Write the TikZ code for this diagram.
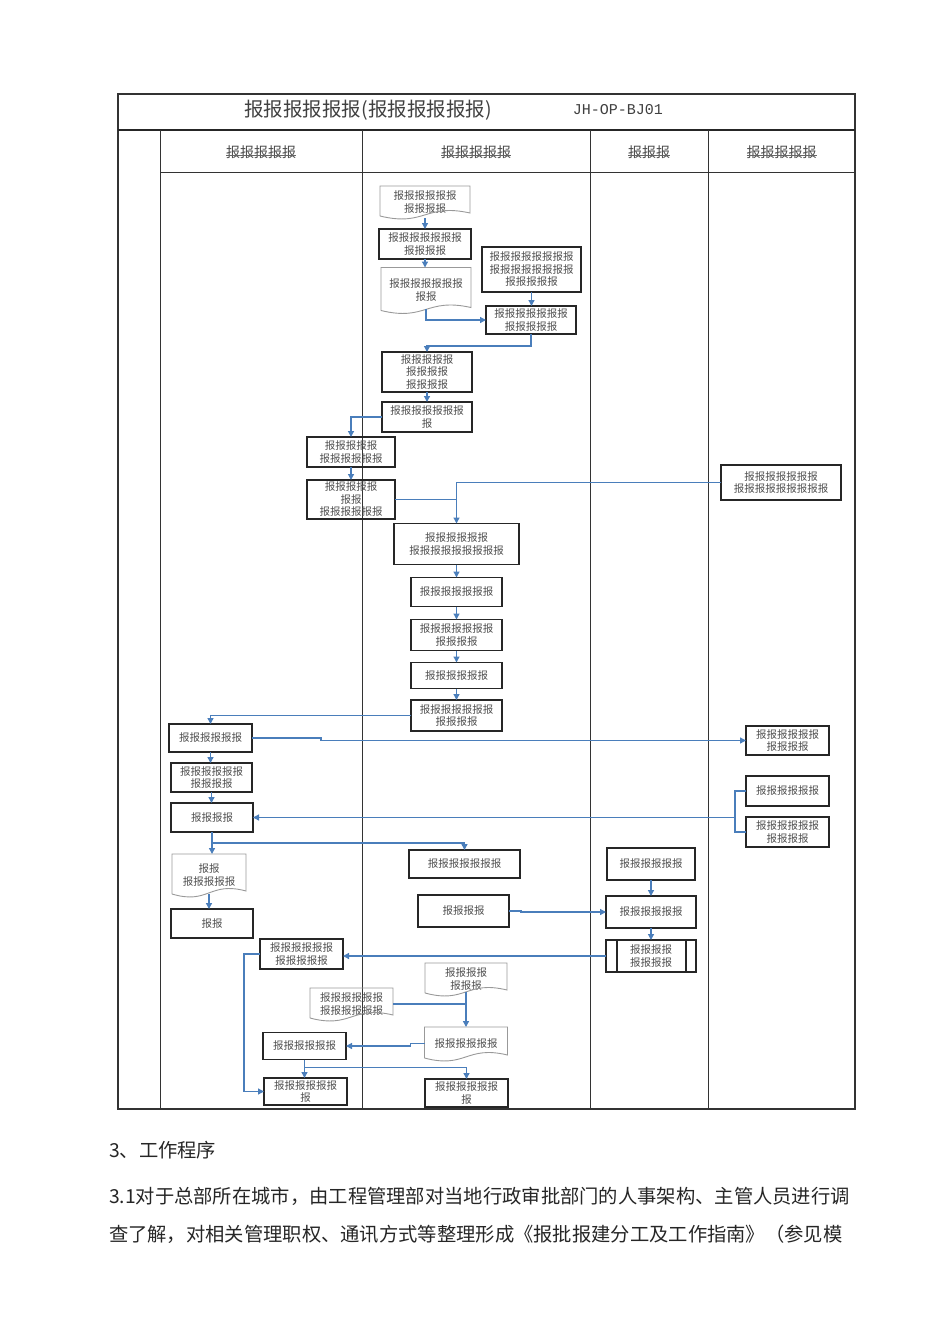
\documentclass[tikz,border=0pt]{standalone}
\usepackage{fontspec}
\setmainfont{Noto Sans CJK SC}
\newfontfamily\monof{Liberation Mono}
\usetikzlibrary{arrows.meta,calc}
\definecolor{conblue}{RGB}{74,126,187}
\definecolor{txtgray}{RGB}{80,80,80}
\newcommand\docout[1]{\draw[docedge] ($(#1.south west)+(0,-2)$) -- (#1.north west) -- (#1.north east) -- ($(#1.south east)+(0,-5)$) .. controls ($(#1.south)+(0,-15)$) and ($(#1.south)+(0,9)$) .. ($(#1.south west)+(0,-2)$);}
\tikzset{
 every node/.style={inner sep=0pt, outer sep=0pt, align=center},
 bx/.style={draw=black!85, line width=1.1pt, font=\fontsize{10.5}{12.5}\selectfont, text=txtgray},
 bxk/.style={bx, line width=1.7pt},
 dc/.style={font=\fontsize{10.5}{12.5}\selectfont, text=txtgray},
 docedge/.style={draw=black!40, line width=0.9pt},
 conn/.style={draw=conblue, line width=1.3pt, -{Triangle[length=6pt,width=6pt]}},
 cline/.style={draw=conblue, line width=1.3pt},
 grid/.style={draw=black!80, line width=1pt},
 hdr/.style={font=\fontsize{14}{16}\selectfont, text=black!70},
 body/.style={anchor=west, font=\fontsize{19.3}{22}\selectfont, text=black!85},
}
\begin{document}
\begin{tikzpicture}[x=1pt,y=-1pt]
\useasboundingbox (0,0) rectangle (950,1344);
% table
\draw[grid, line width=1.2pt] (118,94) rectangle (855,1109);
\draw[black!85, line width=2pt] (118,130) -- (855,130);
\draw[grid] (160,130) -- (160,1109);
\draw[grid] (362,130) -- (362,1109);
\draw[grid] (590,130) -- (590,1109);
\draw[grid] (708,130) -- (708,1109);
\draw[grid] (160,172) -- (855,172);
% title
\node[font=\fontsize{19.5}{21}\selectfont, text=black!75] (title) at (368,110) {报报报报报报(报报报报报报)};
\node[font=\monof\fontsize{15}{17}\selectfont, text=black!75] (code) at (618,110) {JH-OP-BJ01};
% headers
\node[hdr] (h1) at (261,152) {报报报报报};
\node[hdr] (h2) at (476,152) {报报报报报};
\node[hdr] (h3) at (649,152) {报报报};
\node[hdr] (h4) at (781.5,152) {报报报报报};
\foreach \h in {h1,h2,h3,h4}{\draw[black!60, line width=0.8pt] ($(\h.west)+(0,3)$) -- ($(\h.east)+(0,3)$);}
% nodes
\node[dc, minimum width=90pt, minimum height=32pt] (d1) at (425,202) {报报报报报报\\报报报报}; \docout{d1}
\node[bx, minimum width=92pt, minimum height=30pt] (b2) at (425,244) {报报报报报报报\\报报报报};
\node[dc, minimum width=90pt, minimum height=45pt] (d3) at (426,290) {报报报报报报报\\报报}; \docout{d3}
\node[bx, minimum width=99pt, minimum height=45pt] (b4) at (531.5,269.5) {报报报报报报报报\\报报报报报报报报\\报报报报报};
\node[bx, minimum width=90pt, minimum height=28pt] (b5) at (531,320) {报报报报报报报\\报报报报报};
\node[bx, minimum width=90pt, minimum height=40pt] (b6) at (427,372) {报报报报报\\报报报报\\报报报报};
\node[bx, minimum width=90pt, minimum height=30pt] (b7) at (427,417) {报报报报报报报\\报};
\node[bx, minimum width=88pt, minimum height=30pt] (b8) at (351,452) {报报报报报\\报报报报报报};
\node[bx, minimum width=88pt, minimum height=39pt] (b9) at (351,499.5) {报报报报报\\报报\\报报报报报报};
\node[bx, minimum width=120pt, minimum height=35pt] (b10) at (781,482.5) {报报报报报报报\\报报报报报报报报报};
\node[bx, minimum width=125pt, minimum height=41pt] (b11) at (456.5,544) {报报报报报报\\报报报报报报报报报};
\node[bx, minimum width=91pt, minimum height=29pt] (b12) at (456.5,592) {报报报报报报报};
\node[bx, minimum width=91pt, minimum height=31pt] (b13) at (456.5,635) {报报报报报报报\\报报报报};
\node[bx, minimum width=91pt, minimum height=26pt] (b14) at (456.5,675.5) {报报报报报报};
\node[bx, minimum width=91pt, minimum height=31pt] (b15) at (456.5,715.5) {报报报报报报报\\报报报报};
\node[bx, minimum width=83pt, minimum height=28pt] (b16) at (210.5,738) {报报报报报报};
\node[bx, minimum width=83pt, minimum height=29pt] (b17) at (787.5,740.5) {报报报报报报\\报报报报};
\node[bx, minimum width=81pt, minimum height=29pt] (b18) at (211.5,777.5) {报报报报报报\\报报报报};
\node[bx, minimum width=82pt, minimum height=29pt] (b19) at (212,817.5) {报报报报};
\node[bx, minimum width=83pt, minimum height=30pt] (b20) at (787.5,791) {报报报报报报};
\node[bx, minimum width=83pt, minimum height=30pt] (b21) at (787.5,832) {报报报报报报\\报报报报};
\node[dc, minimum width=74pt, minimum height=42pt] (d22) at (209,875) {报报\\报报报报报}; \docout{d22}
\node[bx, minimum width=111pt, minimum height=28pt] (b23) at (464.5,864) {报报报报报报报};
\node[bx, minimum width=82pt, minimum height=29pt] (b24) at (212,923.5) {报报};
\node[bx, minimum width=88pt, minimum height=32pt] (b25) at (651,864) {报报报报报报};
\node[bx, minimum width=91pt, minimum height=32pt] (b26) at (463.5,911) {报报报报};
\node[bx, minimum width=90pt, minimum height=32pt] (b27) at (651,912) {报报报报报报};
\node[bx, minimum width=90pt, minimum height=32pt] (b28) at (651,956) {报报报报\\报报报报};
\draw[black!85, line width=1.1pt] ($(b28.north west)+(11,0)$) -- ($(b28.south west)+(11,0)$);
\draw[black!85, line width=1.1pt] ($(b28.north east)+(-10,0)$) -- ($(b28.south east)+(-10,0)$);
\node[bxk, minimum width=83pt, minimum height=30pt] (b29) at (301.5,954) {报报报报报报\\报报报报报};
\node[dc, minimum width=82pt, minimum height=32pt] (d30) at (466,979) {报报报报\\报报报}; \docout{d30}
\node[dc, minimum width=83pt, minimum height=32pt] (d31) at (351.5,1004) {报报报报报报\\报报报报报报}; \docout{d31}
\node[dc, minimum width=83pt, minimum height=33pt] (d32) at (466,1043.5) {报报报报报报}; \docout{d32}
\node[bxk, minimum width=83pt, minimum height=27pt] (b33) at (304.5,1046) {报报报报报报};
\node[bxk, minimum width=83pt, minimum height=27pt] (b34) at (305.5,1091.5) {报报报报报报\\报};
\node[bxk, minimum width=83pt, minimum height=28pt] (b35) at (466.5,1093) {报报报报报报\\报};
% connectors
\draw[conn] (d1.south) -- (d1.south |- b2.north);
\draw[conn] (b2.south) -- (b2.south |- d3.north);
\draw[conn] (b4.south) -- (b4.south |- b5.north);
\draw[conn] ($(d3.south)+(0,-4)$) |- (b5.west);
\draw[conn] (b5.south) -- ++(0,12) -| (b6.north);
\draw[conn] (b6.south) -- (b6.south |- b7.north);
\draw[conn] (b7.west) -| (b8.north);
\draw[conn] (b8.south) -- (b8.south |- b9.north);
\draw[conn] (b10.west) -| (b11.north);
\draw[cline] (b9.east) -- (b9.east -| b11.north);
\draw[conn] (b11.south) -- (b11.south |- b12.north);
\draw[conn] (b12.south) -- (b12.south |- b13.north);
\draw[conn] (b13.south) -- (b13.south |- b14.north);
\draw[conn] (b14.south) -- (b14.south |- b15.north);
\draw[conn] (b15.west) -| (b16.north);
\draw[conn] (b16.east) -- ++(69,0) |- (b17.west);
\draw[conn] (b16.south) -- (b16.south |- b18.north);
\draw[conn] (b18.south) -- (b18.south |- b19.north);
\draw[cline] (b20.west) -- ++(-11,0) |- (b21.west);
\coordinate (j1) at (735.5,817.5);
\draw[conn] (j1) -- (b19.east);
\draw[conn] (b19.south) -- (b19.south |- d22.north);
\draw[conn] ($(b19.south)+(0,11)$) -| (b23.north);
\draw[conn] ($(d22.south)+(0,-2)$) -- (d22.south |- b24.north);
\draw[conn] (b25.south) -- (b25.south |- b27.north);
\draw[conn] (b26.east) -- ++(12,0) |- (b27.west);
\draw[conn] (b27.south) -- (b27.south |- b28.north);
\draw[conn] (b28.west) -- (b28.west -| b29.east);
\draw[conn] (b29.west) -- ++(-16,0) |- (b34.west);
\draw[conn] ($(d30.south)+(0,-3)$) -- (d30.south |- d32.north);
\draw[cline] (d31.east) -- (d31.east -| d32.north);
\draw[conn] (d32.west) -- ++(-14,0) |- (b33.east);
\draw[conn] (b33.south) -- (b33.south |- b34.north);
\draw[conn] ($(b33.south)+(0,8)$) -| (b35.north);
% body text
\node[body] (p0) at (109,1150) {3、工作程序};
\node[body] (p1) at (109,1196) {3.1对于总部所在城市，由工程管理部对当地行政审批部门的人事架构、主管人员进行调};
\node[body] (p2) at (109,1234) {查了解，对相关管理职权、通讯方式等整理形成《报批报建分工及工作指南》（参见模};
\end{tikzpicture}
\end{document}
